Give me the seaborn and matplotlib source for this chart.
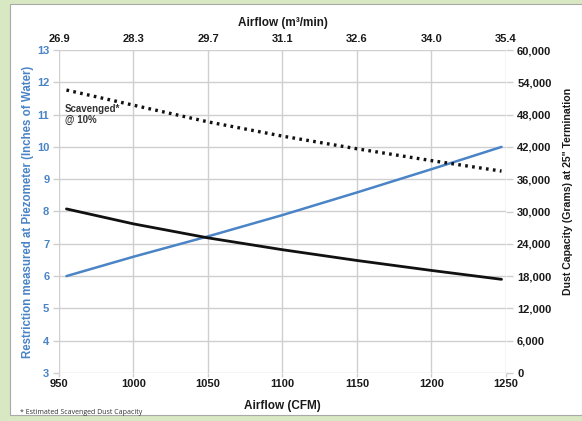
import numpy as np
import pandas as pd
import seaborn as sns
import matplotlib.pyplot as plt
from matplotlib.patches import Rectangle

# values
airflow_cfm = [955, 1000, 1050, 1100, 1150, 1200, 1247]
restriction = [6.0, 6.6, 7.23, 7.89, 8.59, 9.31, 10.0]          # inches of water (left axis)
dust_capacity = [30480, 27700, 25100, 22900, 20900, 19050, 17400]   # grams (right axis)
dust_scavenged = [52560, 49750, 46650, 44000, 41650, 39450, 37500]  # grams, scavenged @ 10%

x_ticks = [950, 1000, 1050, 1100, 1150, 1200, 1250]
top_labels = ['26.9', '28.3', '29.7', '31.1', '32.6', '34.0', '35.4']
left_ticks = list(range(3, 14))
right_ticks = list(range(0, 60001, 6000))

df = pd.DataFrame({'cfm': airflow_cfm, 'restriction': restriction,
                   'dust': dust_capacity, 'scav': dust_scavenged})

sns.set_style('white')
plt.rcParams['font.family'] = ['Liberation Sans', 'DejaVu Sans']

blue = '#4a84c6'
txt = '#1a1a1a'
grid_c = '#cfcfcf'
fs = 8

fig = plt.figure(figsize=(5.82, 4.21), dpi=100)
fig.patch.set_facecolor('#d7e8c3')
# white panel behind everything
fig.patches.append(Rectangle((10 / 582, 6 / 421), 1 - 10 / 582, 1 - 10 / 421,
                             transform=fig.transFigure, facecolor='white',
                             edgecolor='#a9a9a9', linewidth=0.8, zorder=-10))

ax = fig.add_axes([59 / 582, 1 - 373 / 421, (506 - 59) / 582, (373 - 50) / 421])
ax.set_facecolor('none')

sns.lineplot(data=df, x='cfm', y='restriction', ax=ax, color=blue, linewidth=1.8)
ax.set_xlim(950, 1250)
ax.set_ylim(3, 13)
ax.set_xticks(x_ticks)
ax.set_yticks(left_ticks)
ax.grid(True, color=grid_c, linewidth=1.0)
ax.set_axisbelow(True)
for s in ax.spines.values():
    s.set_visible(False)
ax.tick_params(axis='x', colors=grid_c, labelcolor=txt, length=3, width=1, labelsize=fs, pad=1)
ax.tick_params(axis='y', colors=grid_c, labelcolor=blue, length=4, width=1, labelsize=fs, pad=3)
for lab in ax.get_xticklabels() + ax.get_yticklabels():
    lab.set_fontweight('bold')
ax.set_xlabel('Airflow (CFM)', fontsize=8.5, fontweight='bold', color=txt, labelpad=8)
ax.set_ylabel('Restriction measured at Piezometer (Inches of Water)', fontsize=8.3,
              fontweight='bold', color=blue)
ax.yaxis.set_label_coords(-(59 - 34) / 447, 0.5)

# right axis: dust capacity
ax2 = ax.twinx()
sns.lineplot(data=df, x='cfm', y='dust', ax=ax2, color='#111111', linewidth=2.0)
sns.lineplot(data=df, x='cfm', y='scav', ax=ax2, color='#111111', linewidth=2.4,
             linestyle=(0, (0.8, 1.3)))
ax2.set_ylim(0, 60000)
ax2.set_yticks(right_ticks)
ax2.set_yticklabels([f'{v:,}' for v in right_ticks])
ax2.grid(False)
for s in ax2.spines.values():
    s.set_visible(False)
ax2.tick_params(axis='y', colors=grid_c, labelcolor=txt, length=5, width=1, labelsize=fs, pad=3)
for lab in ax2.get_yticklabels():
    lab.set_fontweight('bold')
ax2.set_ylabel('Dust Capacity (Grams) at 25" Termination', fontsize=7.6,
               fontweight='bold', color=txt)
ax2.yaxis.set_label_coords(1 + (563 - 506) / 447, (373 - 191) / 323)
ax2.set_xlabel('')

# top axis: airflow in m3/min
ax3 = ax.twiny()
ax3.set_xlim(950, 1250)
ax3.set_xticks(x_ticks)
ax3.set_xticklabels(top_labels)
for s in ax3.spines.values():
    s.set_visible(False)
ax3.tick_params(axis='x', length=0, labelsize=fs, colors=txt, pad=4)
for lab in ax3.get_xticklabels():
    lab.set_fontweight('bold')
ax3.set_xlabel('Airflow (m³/min)', fontsize=8.5, fontweight='bold', color=txt, labelpad=6)

ax.text(954, 11.0, 'Scavenged*\n@ 10%', fontsize=7, fontweight='bold',
        color='#333333', va='center', ha='left', linespacing=1.2)

fig.text(20 / 582, 1 - 412 / 421, '* Estimated Scavenged Dust Capacity', fontsize=5,
         color='#333333', family=['Open Sans', 'DejaVu Sans'], va='center')

fig.savefig('out.png', dpi=100, facecolor=fig.get_facecolor())
